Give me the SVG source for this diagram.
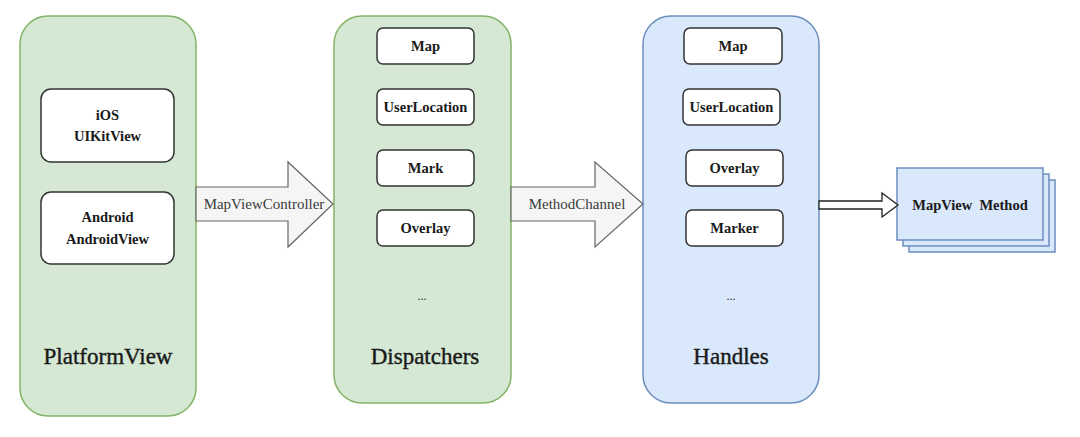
<svg xmlns="http://www.w3.org/2000/svg" width="1080" height="437" viewBox="0 0 1080 437">
<style>
text{font-family:"Liberation Serif","DejaVu Serif",serif;text-anchor:middle;dominant-baseline:central;fill:#1a1a1a}
.green{fill:#d5e8d4;stroke:#82b366;stroke-width:1.5}
.blue{fill:#dae8fc;stroke:#6c8ebf;stroke-width:1.5}
.box{fill:#fff;stroke:#333;stroke-width:1.5}
.t{font-size:14.5px;font-weight:bold}
.big{font-size:23px;stroke:#1a1a1a;stroke-width:0.4}
.lbl{font-size:15px;fill:#3a3a3a;font-family:"Liberation Serif",serif}
.dots{font-size:12px}
.fat{fill:#f5f5f5;stroke:#666;stroke-width:1.2}
</style>
<rect width="1080" height="437" fill="#fff"/>
<g id="platformview">
<rect class="green" x="20" y="16" width="176" height="400" rx="28"/>
<rect class="box" x="41" y="89" width="133" height="73" rx="10"/>
<text class="t" x="107.5" y="115">iOS</text>
<text class="t" x="107.5" y="136">UIKitView</text>
<rect class="box" x="41" y="192" width="133" height="72" rx="10"/>
<text class="t" x="107.5" y="217">Android</text>
<text class="t" x="107.5" y="239">AndroidView</text>
<text class="big" x="108" y="356">PlatformView</text>
</g>
<g id="dispatchers">
<rect class="green" x="334" y="16" width="177" height="387" rx="28"/>
<rect class="box" x="377" y="28" width="97" height="36" rx="6"/>
<text class="t" x="425.5" y="46">Map</text>
<rect class="box" x="377" y="89" width="97" height="36" rx="6"/>
<text class="t" x="425.5" y="107">UserLocation</text>
<rect class="box" x="377" y="150" width="97" height="36" rx="6"/>
<text class="t" x="425.5" y="168">Mark</text>
<rect class="box" x="377" y="210" width="97" height="36" rx="6"/>
<text class="t" x="425.5" y="228">Overlay</text>
<text class="dots" x="422" y="296">...</text>
<text class="big" x="425" y="356">Dispatchers</text>
</g>
<g id="handles">
<rect class="blue" x="643" y="16" width="176" height="387" rx="28"/>
<rect class="box" x="684" y="28" width="98" height="36" rx="6"/>
<text class="t" x="733" y="46">Map</text>
<rect class="box" x="683" y="89" width="97" height="36" rx="6"/>
<text class="t" x="731.5" y="107">UserLocation</text>
<rect class="box" x="686" y="150" width="97" height="36" rx="6"/>
<text class="t" x="734.5" y="168">Overlay</text>
<rect class="box" x="686" y="210" width="97" height="36" rx="6"/>
<text class="t" x="734.5" y="228">Marker</text>
<text class="dots" x="731" y="296">...</text>
<text class="big" x="731" y="356">Handles</text>
</g>
<g id="mapview-method">
<rect class="blue" x="909" y="180" width="146" height="72"/>
<rect class="blue" x="903" y="174" width="146" height="72"/>
<rect class="blue" x="897" y="168" width="146" height="72"/>
<text class="t" x="970" y="205" style="font-size:14.5px" xml:space="preserve">MapView  Method</text>
</g>
<g id="connectors">
<path class="fat" d="M196 187 H288 V162 L333 204 L288 247 V221 H196 Z"/>
<text class="lbl" x="264" y="204">MapViewController</text>
<path class="fat" d="M511 187 H595 V162 L643 204 L595 247 V221 H511 Z"/>
<text class="lbl" x="577" y="204">MethodChannel</text>
<path d="M819 201 H882 V193 L898 205 L882 217 V209 H819 Z" fill="#fff" stroke="#222" stroke-width="1.3"/>
</g>
</svg>
